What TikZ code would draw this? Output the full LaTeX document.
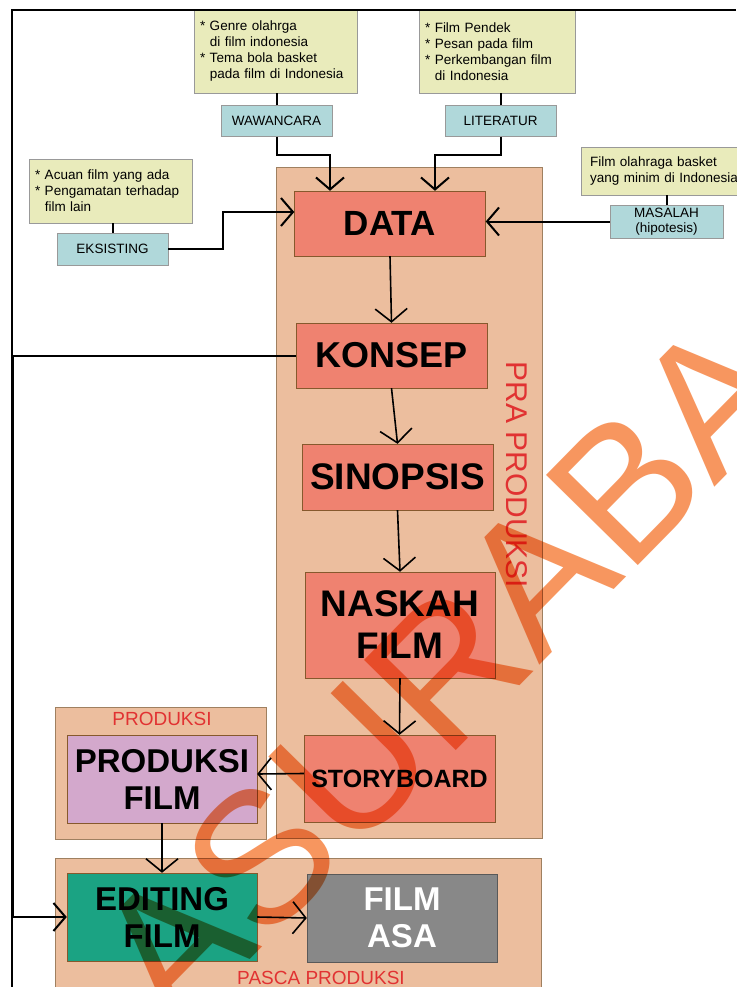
\documentclass[tikz,border=0pt]{standalone}
\usepackage{fontspec}
\setmainfont{Liberation Sans}
\usetikzlibrary{arrows.meta}
\definecolor{noteY}{RGB}{233,235,187}
\definecolor{srcB}{RGB}{176,216,218}
\definecolor{grpP}{RGB}{236,190,158}
\definecolor{stageR}{RGB}{239,130,112}
\definecolor{prodP}{RGB}{211,168,204}
\definecolor{editG}{RGB}{27,163,131}
\definecolor{asaG}{RGB}{136,136,136}
\definecolor{lblR}{RGB}{225,50,50}
\definecolor{wmO}{RGB}{247,150,95}
\newcommand{\ind}{\hphantom{*}\ }

\begin{document}
\begin{tikzpicture}[x=1pt, y=-1pt,
	note/.style={draw=gray!80, fill=noteY, align=left, inner xsep=6pt, inner ysep=0pt, font=\fontsize{13.5}{16}\selectfont},
	src/.style={draw=gray!80, fill=srcB, align=center, minimum width=111pt, minimum height=31pt, inner sep=0pt, font=\fontsize{13.5}{15}\selectfont},
	grp/.style={draw=brown!50!gray, fill=grpP, inner sep=0pt},
	stage/.style={draw=brown!70!black, fill=stageR, align=center, minimum width=191pt, inner sep=0pt},
	lbl/.style={text=lblR, inner sep=0pt},
	conn/.style={line width=2pt, ->, >={Straight Barb[length=12pt,width=28pt]}},
	flow/.style={line width=1.6pt, ->, >={Straight Barb[length=13pt,width=32pt]}}]
				\useasboundingbox (0,0) rectangle (736,987);
				\fill[white] (0,0) rectangle (736,987);
				\node[grp, minimum width=266pt, minimum height=671pt] (PRA)at(409, 502.5) {};
				\node[grp, minimum width=211pt, minimum height=132pt] (PRO)at(160.5, 773) {};
				\node[grp, minimum width=486pt, minimum height=142pt] (PAS)at(298, 929) {};
				\node[lbl, rotate=-90, font=\fontsize{30}{30}\selectfont] (LPRA)at(517, 475) {PRA PRODUKSI};
				\node[lbl, font=\fontsize{19}{19}\selectfont] (LPRO)at(162, 719) {PRODUKSI};
				\node[lbl, font=\fontsize{19}{19}\selectfont] (LPAS)at(321, 978) {PASCA PRODUKSI};
				\node[note, text width=151pt, minimum height=83pt] (NW)at(275.5, 51.5) {* Genre olahrga\\ \ind di film indonesia\\{}* Tema bola basket\\ \ind pada film di Indonesia};
				\node[note, text width=144pt, minimum height=83pt] (NL)at(497, 51.5) {* Film Pendek\\{}* Pesan pada film\\{}* Perkembangan film\\ \ind di Indonesia};
				\node[note, text width=151pt, minimum height=64pt] (NE)at(110.5, 191) {* Acuan film yang ada\\{}* Pengamatan terhadap\\ \ind film lain};
				\node[note, text width=153pt, minimum height=48pt, inner xsep=9pt] (NM)at(666.5, 171) {Film olahraga basket\\yang minim di Indonesia};
				\node[src] (W)at(276.5, 121) {WAWANCARA};
				\node[src] (L)at(500.5, 121) {LITERATUR};
				\node[src, minimum height=32pt] (E)at(112.5, 249) {EKSISTING};
				\node[src, minimum width=113pt, minimum height=33pt] (M)at(666.5, 221.5) {MASALAH\\(hipotesis)};
				\node[stage, minimum height=65pt, font=\bfseries\fontsize{35}{40}\selectfont] (D)at(390, 223.5) {DATA};
				\node[stage, minimum height=65pt, font=\bfseries\fontsize{36}{40}\selectfont] (K)at(391.5, 355.5) {KONSEP};
				\node[stage, minimum height=66pt, font=\bfseries\fontsize{37}{40}\selectfont] (S)at(397.5, 477) {SINOPSIS};
				\node[stage, minimum width=190pt, minimum height=106pt, font=\bfseries\fontsize{37}{42}\selectfont] (N)at(400, 625) {NASKAH\\FILM};
				\node[stage, minimum height=87pt, font=\bfseries\fontsize{25}{30}\selectfont] (SB)at(399.5, 778.5) {STORYBOARD};
				\node[stage, fill=prodP, minimum width=190pt, minimum height=88pt, font=\bfseries\fontsize{33}{37}\selectfont] (PF)at(162, 779) {PRODUKSI\\FILM};
				\node[stage, fill=editG, minimum width=190pt, minimum height=88pt, font=\bfseries\fontsize{33}{37}\selectfont] (EF)at(162, 917) {EDITING\\FILM};
				\node[stage, draw=gray!70!black, fill=asaG, text=white, minimum width=190pt, minimum height=88pt, font=\bfseries\fontsize{33}{37}\selectfont] (FA)at(402, 918) {FILM\\ASA};
				\draw[line width=1.2pt] (12, 987) -- (12, 10) -- (736, 10);
				\draw[line width=2pt] (W.north) -- (W.north |- NW.south);
				\draw[line width=2pt] (L.north) -- (L.north |- NL.south);
				\draw[line width=2pt] (E.north) -- (E.north |- NE.south);
				\draw[line width=2pt] (M.north) -- (M.north |- NM.south);
				\draw[conn] (W.south) -- ++(0, 18) -| ([xshift=-60pt]D.north);
				\draw[conn] (L.south) -- ++(0, 18) -| ([xshift=45pt]D.north);
				\draw[conn] (E.east) -- ++(55, 0) |- ([yshift=11.5pt]D.west);
				\draw[conn] (M.west) -- (M.west -| D.east);
				\draw[flow] (D.south) -- (K.north);
				\draw[flow] (K.south) -- (S.north);
				\draw[flow] (S.south) -- (N.north);
				\draw[flow] (N.south) -- (SB.north);
				\draw[flow] ([yshift=5pt]SB.west) -- ([yshift=5pt]PF.east);
				\draw[flow] (PF.south) -- (EF.north);
				\draw[flow] (EF.east) -- (FA.west);
				\draw[conn] (K.west) -- ++(-283, 0) |- (EF.west);
				\begin{scope}[blend mode=multiply]
				\node[text=wmO, rotate=45.5, inner sep=0pt, font=\fontsize{187}{187}\selectfont] (WM)at(443, 672) {ASURABA};
				\end{scope}
			\end{tikzpicture}
\end{document}
